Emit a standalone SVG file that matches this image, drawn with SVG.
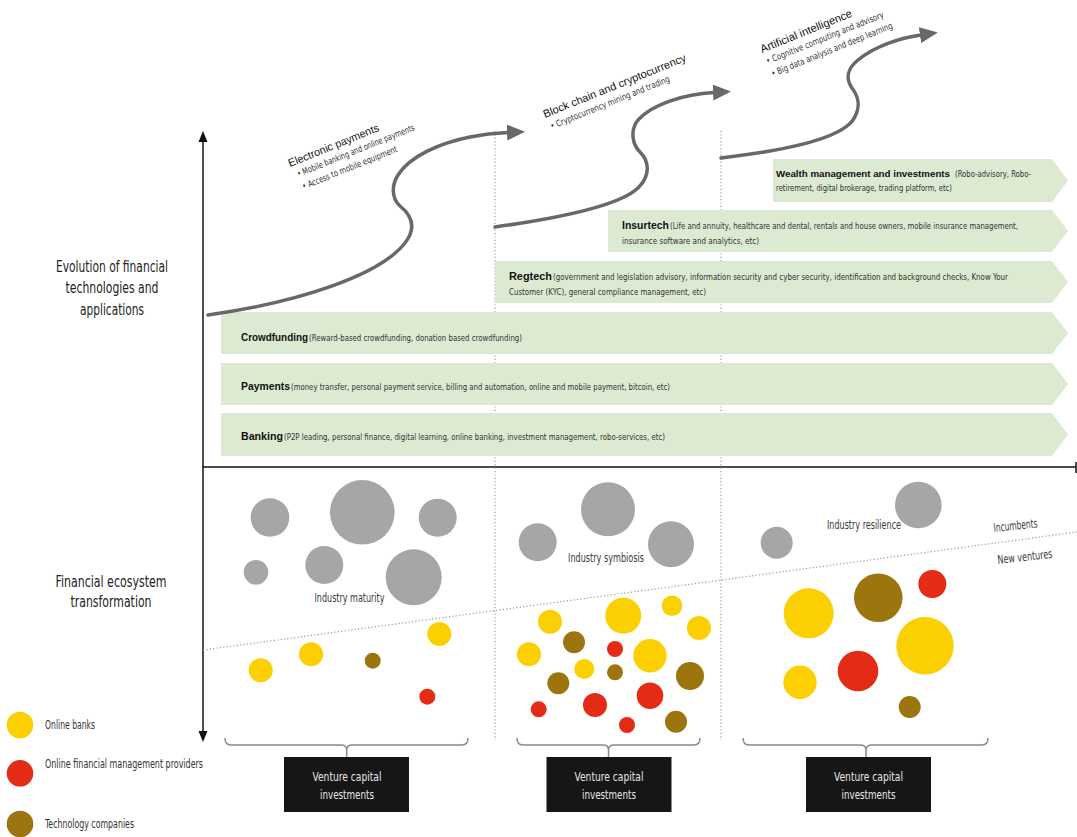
<svg xmlns="http://www.w3.org/2000/svg" width="1077" height="837" viewBox="0 0 1077 837">
  <defs>
    <style>
      .bg { fill: #ffffff; }
      .axis { stroke: #111; stroke-width: 1.5; fill: none; }
      .axhead { fill: #111; }
      .vdot { stroke: #9a9a9a; stroke-width: 1.2; stroke-dasharray: 1.2 2.2; fill: none; }
      .curve { stroke: #686868; stroke-width: 3.5; fill: none; stroke-linecap: round; marker-end: url(#ah); }
      .chev { fill: #dbead1; }
      .b { font-family: 'Liberation Sans', Arial, sans-serif; font-weight: bold; font-size: 10.5px; fill: #111; }
      .c { font-family: 'Liberation Sans Narrow', 'DejaVu Sans Condensed', 'DejaVu Sans', sans-serif; font-stretch: condensed; fill: #333; }
      .d { font-size: 9px; }
      .dl { font-size: 8.6px; }
      .t { font-family: 'Liberation Sans', Arial, sans-serif; font-size: 11px; fill: #111; }
      .lbl { font-size: 15px; fill: #222; }
      .ind { font-size: 12px; fill: #3a3a3a; }
      .leg { font-size: 12px; fill: #333; }
      .gray { fill: #a6a6a6; }
      .yel { fill: #fcd000; }
      .red { fill: #e32b15; }
      .brn { fill: #9d750f; }
      .brace { stroke: #8a8a8a; stroke-width: 1.5; fill: none; }
      .vcbox { fill: #161616; }
      .vct { font-size: 13px; fill: #e6e6e6; }
    </style>
    <marker id="ah" markerUnits="userSpaceOnUse" markerWidth="18" markerHeight="16" viewBox="0 0 18 16" refX="1" refY="8" orient="auto">
      <path d="M0,0 L18,8 L0,16 z" fill="#686868"/>
    </marker>
  </defs>

  <rect class="bg" x="0" y="0" width="1077" height="837"/>

  <!-- axes -->
  <g id="axes">
    <line class="axis" x1="203" y1="140" x2="203" y2="733"/>
    <polygon class="axhead" points="203,131 198.5,142 207.5,142"/>
    <polygon class="axhead" points="203,742 198.5,731 207.5,731"/>
    <line class="axis" x1="203" y1="467" x2="1076" y2="467"/>
    <line class="axis" x1="1076" y1="462" x2="1076" y2="473"/>
  </g>

  <!-- period separators and incumbents / new ventures divider -->
  <g id="separators">
    <line class="vdot" x1="495" y1="131" x2="495" y2="740"/>
    <line class="vdot" x1="721" y1="131" x2="721" y2="740"/>
    <line class="vdot" x1="203" y1="650" x2="1077" y2="532"/>
  </g>

  <!-- side labels -->
  <g id="label-evolution">
    <text class="c lbl" text-anchor="middle" x="112" y="272" textLength="112" lengthAdjust="spacingAndGlyphs">Evolution of financial</text>
    <text class="c lbl" text-anchor="middle" x="112" y="293" textLength="93" lengthAdjust="spacingAndGlyphs">technologies and</text>
    <text class="c lbl" text-anchor="middle" x="112" y="315" textLength="64" lengthAdjust="spacingAndGlyphs">applications</text>
  </g>
  <g id="label-ecosystem">
    <text class="c lbl" text-anchor="middle" x="111" y="587" textLength="111" lengthAdjust="spacingAndGlyphs">Financial ecosystem</text>
    <text class="c lbl" text-anchor="middle" x="111" y="607" textLength="81" lengthAdjust="spacingAndGlyphs">transformation</text>
  </g>

  <!-- application areas -->
  <g id="wealth">
    <polygon class="chev" points="773,159 1052,159 1068,180.5 1052,202 773,202"/>
    <text class="b" x="776" y="177" font-size="9px" style="font-size:9px" textLength="174" lengthAdjust="spacingAndGlyphs">Wealth management and investments</text>
    <text class="c d" x="955" y="177" textLength="76" lengthAdjust="spacingAndGlyphs">(Robo-advisory, Robo-</text>
    <text class="c d" x="776" y="191" textLength="176" lengthAdjust="spacingAndGlyphs">retirement, digital brokerage, trading platform, etc)</text>
  </g>
  <g id="insurtech">
    <polygon class="chev" points="608,210 1052,210 1068,231 1052,252 608,252"/>
    <text class="b" x="622" y="229" textLength="47" lengthAdjust="spacingAndGlyphs">Insurtech</text>
    <text class="c dl" x="670" y="229" textLength="348" lengthAdjust="spacingAndGlyphs">(Life and annuity, healthcare and dental, rentals and house owners, mobile insurance management,</text>
    <text class="c d" x="622" y="244" textLength="137" lengthAdjust="spacingAndGlyphs">insurance software and analytics, etc)</text>
  </g>
  <g id="regtech">
    <polygon class="chev" points="495,261 1052,261 1068,282 1052,303 495,303"/>
    <text class="b" x="509" y="280" textLength="43" lengthAdjust="spacingAndGlyphs">Regtech</text>
    <text class="c dl" x="553" y="280" textLength="455" lengthAdjust="spacingAndGlyphs">(government and legislation advisory, information security and cyber security, identification and background checks, Know Your</text>
    <text class="c d" x="509" y="295" textLength="197" lengthAdjust="spacingAndGlyphs">Customer (KYC), general compliance management, etc)</text>
  </g>
  <g id="crowdfunding">
    <polygon class="chev" points="221,312 1052,312 1068,333 1052,354 221,354"/>
    <text class="b" x="241" y="341" textLength="67" lengthAdjust="spacingAndGlyphs">Crowdfunding</text>
    <text class="c d" x="309" y="341" textLength="213" lengthAdjust="spacingAndGlyphs">(Reward-based crowdfunding, donation based crowdfunding)</text>
  </g>
  <g id="payments">
    <polygon class="chev" points="221,363 1052,363 1068,384 1052,405 221,405"/>
    <text class="b" x="241" y="389.5" textLength="49" lengthAdjust="spacingAndGlyphs">Payments</text>
    <text class="c d" x="291" y="389.5" textLength="379" lengthAdjust="spacingAndGlyphs">(money transfer, personal payment service, billing and automation, online and mobile payment, bitcoin, etc)</text>
  </g>
  <g id="banking">
    <polygon class="chev" points="221,413 1052,413 1068,434.5 1052,456 221,456"/>
    <text class="b" x="241" y="440" textLength="42" lengthAdjust="spacingAndGlyphs">Banking</text>
    <text class="c d" x="284" y="440" textLength="381" lengthAdjust="spacingAndGlyphs">(P2P leading, personal finance, digital learning, online banking, investment management, robo-services, etc)</text>
  </g>

  <!-- technology waves -->
  <g id="connectors">
    <path class="curve" d="M208,315 C300,302 380,275 405,243 C418,226 410,214 400,206 C392,199 391,186 398,175 C410,156 440,143 470,137 C485,134 497,133 508,132.5"/>
    <path class="curve" d="M495,227 C560,218 620,205 638,188 C652,174 648,160 640,152 C632,144 630,130 638,120 C652,104 685,94 714,92.5"/>
    <path class="curve" d="M721,158 C790,150 840,138 853,120 C862,106 858,96 852,88 C845,78 848,68 858,60 C875,46 900,38 921,35"/>
  </g>

  <g id="electronic-payments" transform="translate(290,167) rotate(-22)">
    <text class="t" x="0" y="0" textLength="97" lengthAdjust="spacingAndGlyphs">Electronic payments</text>
    <text class="c d" x="4" y="12.5" textLength="126" lengthAdjust="spacingAndGlyphs">• Mobile banking and online payments</text>
    <text class="c d" x="4" y="26" textLength="102" lengthAdjust="spacingAndGlyphs">• Access to mobile equipment</text>
  </g>
  <g id="blockchain" transform="translate(545,118) rotate(-22)">
    <text class="t" x="0" y="0" textLength="153" lengthAdjust="spacingAndGlyphs">Block chain and cryptocurrency</text>
    <text class="c d" x="2" y="13" textLength="128" lengthAdjust="spacingAndGlyphs">• Cryptocurrency mining and trading</text>
  </g>
  <g id="artificial-intelligence" transform="translate(762,53) rotate(-22)">
    <text class="t" x="0" y="0" textLength="98" lengthAdjust="spacingAndGlyphs">Artificial intelligence</text>
    <text class="c d" x="1" y="12.5" textLength="126" lengthAdjust="spacingAndGlyphs">• Cognitive computing and advisory</text>
    <text class="c d" x="1" y="26" textLength="130" lengthAdjust="spacingAndGlyphs">• Big data analysis and deep learning</text>
  </g>

  <!-- ecosystem: period 1 -->
  <g id="industry-maturity">
    <circle class="gray" cx="270" cy="517.5" r="19.3"/>
    <circle class="gray" cx="362.3" cy="512.3" r="32.3"/>
    <circle class="gray" cx="437.7" cy="517.7" r="19"/>
    <circle class="gray" cx="256" cy="572.3" r="12.3"/>
    <circle class="gray" cx="324.3" cy="565" r="19"/>
    <circle class="gray" cx="413.7" cy="577.3" r="28"/>
    <text class="c ind" text-anchor="middle" x="349.5" y="602" textLength="70" lengthAdjust="spacingAndGlyphs">Industry maturity</text>
    <circle class="yel" cx="260.7" cy="670.3" r="12"/>
    <circle class="yel" cx="311" cy="654.3" r="12"/>
    <circle class="brn" cx="372.7" cy="660.7" r="8"/>
    <circle class="yel" cx="439.3" cy="634" r="12"/>
    <circle class="red" cx="427.3" cy="696.7" r="8"/>
  </g>

  <!-- ecosystem: period 2 -->
  <g id="industry-symbiosis">
    <circle class="gray" cx="537.7" cy="542.3" r="19"/>
    <circle class="gray" cx="608" cy="509.3" r="27"/>
    <circle class="gray" cx="671" cy="544.3" r="23"/>
    <text class="c ind" text-anchor="middle" x="606" y="561.5" textLength="76" lengthAdjust="spacingAndGlyphs">Industry symbiosis</text>
    <circle class="yel" cx="550" cy="621.7" r="12"/>
    <circle class="yel" cx="623.3" cy="615.7" r="18"/>
    <circle class="yel" cx="672" cy="605.7" r="10.3"/>
    <circle class="yel" cx="699" cy="628" r="12"/>
    <circle class="yel" cx="529" cy="654.3" r="12"/>
    <circle class="brn" cx="574" cy="642.3" r="11"/>
    <circle class="red" cx="615" cy="649" r="8"/>
    <circle class="yel" cx="650" cy="655.7" r="16.7"/>
    <circle class="yel" cx="584.3" cy="669" r="10"/>
    <circle class="brn" cx="615" cy="672.3" r="8"/>
    <circle class="brn" cx="558.3" cy="683.3" r="11"/>
    <circle class="brn" cx="690" cy="676" r="14"/>
    <circle class="red" cx="538.7" cy="709.3" r="8"/>
    <circle class="red" cx="595" cy="705" r="12"/>
    <circle class="red" cx="650" cy="695.7" r="13.3"/>
    <circle class="red" cx="627" cy="725" r="8"/>
    <circle class="brn" cx="676" cy="721.7" r="11"/>
  </g>

  <!-- ecosystem: period 3 -->
  <g id="industry-resilience">
    <circle class="gray" cx="776.7" cy="542.7" r="16"/>
    <circle class="gray" cx="918.3" cy="505" r="23.3"/>
    <text class="c ind" text-anchor="middle" x="864" y="529" textLength="74" lengthAdjust="spacingAndGlyphs">Industry resilience</text>
    <circle class="yel" cx="808.7" cy="613.3" r="25"/>
    <circle class="brn" cx="878.3" cy="597.7" r="24.3"/>
    <circle class="red" cx="932.3" cy="584" r="14"/>
    <circle class="yel" cx="925" cy="645.7" r="28.7"/>
    <circle class="yel" cx="800" cy="682.3" r="16.7"/>
    <circle class="red" cx="858" cy="671" r="20.3"/>
    <circle class="brn" cx="909.7" cy="707" r="11"/>
  </g>

  <g id="label-incumbents">
    <text class="c ind" transform="translate(994,532) rotate(-6)" x="0" y="0" textLength="44" lengthAdjust="spacingAndGlyphs">Incumbents</text>
  </g>
  <g id="label-new-ventures">
    <text class="c ind" transform="translate(998,564) rotate(-6.5)" x="0" y="0" textLength="55" lengthAdjust="spacingAndGlyphs">New ventures</text>
  </g>

  <!-- venture capital braces and boxes -->
  <g id="brace-1">
    <path class="brace" d="M225,738 Q225,745 231,745 L341,745 Q346.7,745 346.7,750 Q346.7,745 352,745 L462,745 Q468,745 468,738 M346.7,750 L346.7,757"/>
  </g>
  <g id="brace-2">
    <path class="brace" d="M517,738 Q517,745 523,745 L603,745 Q608.5,745 608.5,750 Q608.5,745 614,745 L694,745 Q700,745 700,738 M608.5,750 L608.5,757"/>
  </g>
  <g id="brace-3">
    <path class="brace" d="M743,738 Q743,745 749,745 L860,745 Q866,745 866,750 Q866,745 872,745 L982,745 Q988,745 988,738 M866,750 L866,757"/>
  </g>
  <g id="vc-1">
    <rect class="vcbox" x="284" y="757" width="125" height="55"/>
    <text class="c vct" text-anchor="middle" x="347" y="781" textLength="69" lengthAdjust="spacingAndGlyphs">Venture capital</text>
    <text class="c vct" text-anchor="middle" x="347" y="799" textLength="54" lengthAdjust="spacingAndGlyphs">investments</text>
  </g>
  <g id="vc-2">
    <rect class="vcbox" x="546.5" y="757" width="125" height="55"/>
    <text class="c vct" text-anchor="middle" x="609" y="781" textLength="69" lengthAdjust="spacingAndGlyphs">Venture capital</text>
    <text class="c vct" text-anchor="middle" x="609" y="799" textLength="54" lengthAdjust="spacingAndGlyphs">investments</text>
  </g>
  <g id="vc-3">
    <rect class="vcbox" x="806" y="757" width="125" height="55"/>
    <text class="c vct" text-anchor="middle" x="868.5" y="781" textLength="69" lengthAdjust="spacingAndGlyphs">Venture capital</text>
    <text class="c vct" text-anchor="middle" x="868.5" y="799" textLength="54" lengthAdjust="spacingAndGlyphs">investments</text>
  </g>

  <!-- legend -->
  <g id="legend-online-banks">
    <circle class="yel" cx="20" cy="725" r="13.3"/>
    <text class="c leg" x="45" y="729" textLength="50" lengthAdjust="spacingAndGlyphs">Online banks</text>
  </g>
  <g id="legend-online-fm-providers">
    <circle class="red" cx="20" cy="773.3" r="13.3"/>
    <text class="c leg" x="45" y="767.5" textLength="158" lengthAdjust="spacingAndGlyphs">Online financial management providers</text>
  </g>
  <g id="legend-technology-companies">
    <circle class="brn" cx="20" cy="824" r="13.3"/>
    <text class="c leg" x="45" y="828" textLength="89" lengthAdjust="spacingAndGlyphs">Technology companies</text>
  </g>
</svg>
